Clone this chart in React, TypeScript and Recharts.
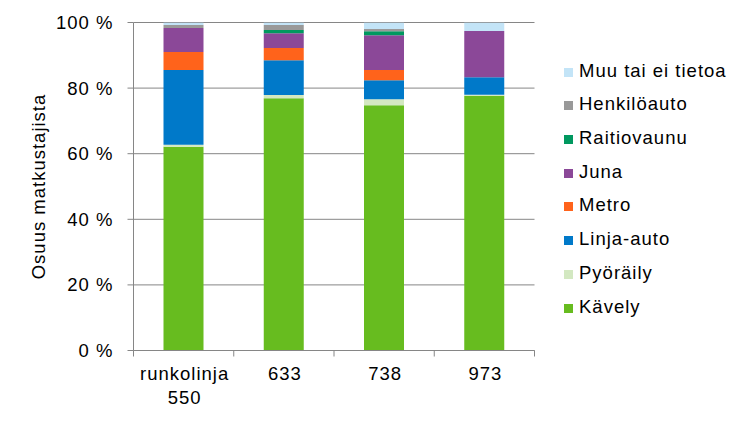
import React from 'react';
import { BarChart, Bar, XAxis, YAxis, CartesianGrid } from 'recharts';

const categories = ['runkolinja 550', '633', '738', '973'];
const kavely = [62.1, 76.9, 74.8, 77.7];
const pyoraily = [0.6, 1.0, 1.8, 0.3];
const linjaAuto = [22.8, 10.6, 5.8, 5.3];
const metro = [5.5, 3.7, 3.1, 0];
const juna = [7.3, 4.5, 10.6, 14.1];
const raitiovaunu = [0, 1.0, 1.2, 0];
const henkiloauto = [0.9, 1.5, 0.7, 0];
const muu = [0.8, 0.8, 2.0, 2.6];
const yTicks = [0, 20, 40, 60, 80, 100];

const series = [
  { key: 'Kävely', values: kavely, color: '#67BC1F' },
  { key: 'Pyöräily', values: pyoraily, color: '#D3E8C1' },
  { key: 'Linja-auto', values: linjaAuto, color: '#0079C9' },
  { key: 'Metro', values: metro, color: '#FF631B' },
  { key: 'Juna', values: juna, color: '#8B4898' },
  { key: 'Raitiovaunu', values: raitiovaunu, color: '#00985F' },
  { key: 'Henkilöauto', values: henkiloauto, color: '#999999' },
  { key: 'Muu tai ei tietoa', values: muu, color: '#C3E4F7' },
];

const data = categories.map((c, i) => {
  const row: Record<string, any> = { name: c };
  series.forEach((s) => (row[s.key] = s.values[i]));
  return row;
});

const W = 750;
const H = 423;
const M = { top: 22.5, right: 215.5, bottom: 0, left: 0.5 };
const Y_W = 133;
const X_H = 72.5;
const FONT = '"Liberation Sans", Arial, sans-serif';
const FS = 18.5;
const LS = 1;
const AXIS = '#868686';
const band = (W - M.left - M.right - Y_W) / categories.length;

const XTick = (props: any) => {
  const { x, y, payload, index } = props;
  const words = String(payload.value).split(' ');
  return (
    <g>
      <line x1={x - band / 2} x2={x - band / 2} y1={y} y2={y + 6} stroke={AXIS} strokeWidth={1} />
      {index === categories.length - 1 && (
        <line x1={x + band / 2} x2={x + band / 2} y1={y} y2={y + 6} stroke={AXIS} strokeWidth={1} />
      )}
      <text x={x} y={y} textAnchor="middle" fill="#000" fontSize={FS} fontFamily={FONT} letterSpacing={LS}>
        {words.map((w, i) => (
          <tspan key={i} x={x + 1} dy={i === 0 ? 29.5 : 24}>
            {w}
          </tspan>
        ))}
      </text>
    </g>
  );
};

const LegendBox = () => (
  <div
    style={{
      position: 'absolute',
      left: 564,
      top: 53.9,
      fontFamily: FONT,
      fontSize: FS,
      letterSpacing: LS,
      color: '#000',
    }}
  >
    {[...series].reverse().map((s) => (
      <div key={s.key} style={{ display: 'flex', alignItems: 'center', height: 33.7 }}>
        <div style={{ width: 9, height: 9, background: s.color, marginRight: 6, marginTop: 3 }} />
        <span style={{ whiteSpace: 'nowrap', lineHeight: 'normal' }}>{s.key}</span>
      </div>
    ))}
  </div>
);

export default function App() {
  return (
    <div style={{ position: 'absolute', left: 0, top: 0, width: W, height: H, background: '#fff' }}>
      <BarChart width={W} height={H} data={data} margin={M} barSize={40}>
        <CartesianGrid vertical={false} stroke={AXIS} strokeWidth={1} />
        <XAxis
          dataKey="name"
          height={X_H}
          stroke={AXIS}
          tickLine={false}
          tickSize={0}
          tickMargin={0}
          interval={0}
          tick={<XTick />}
        />
        <YAxis
          width={Y_W}
          domain={[0, 100]}
          ticks={yTicks}
          allowDataOverflow
          stroke={AXIS}
          tickSize={6}
          tickMargin={14}
          tickFormatter={(v) => `${v} %`}
          tick={{ fill: '#000', fontSize: FS, fontFamily: FONT, letterSpacing: LS }}
          label={{
            value: 'Osuus matkustajista',
            angle: -90,
            position: 'insideLeft',
            dx: 33,
            dy: 0,
            style: { textAnchor: 'middle', fill: '#000', fontSize: FS, fontFamily: FONT, letterSpacing: LS },
          }}
        />
        {series.map((s) => (
          <Bar key={s.key} dataKey={s.key} stackId="a" fill={s.color} isAnimationActive={false} />
        ))}
      </BarChart>
      <LegendBox />
    </div>
  );
}
